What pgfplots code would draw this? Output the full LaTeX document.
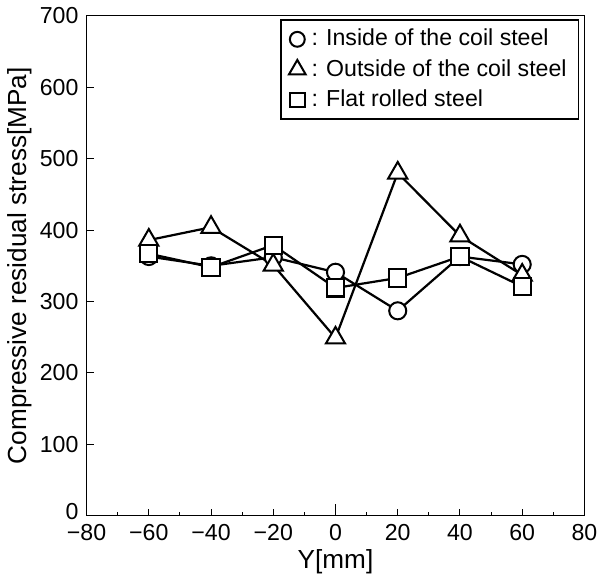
\documentclass[border=0pt]{standalone}
\usepackage{fontspec}
\setmainfont{Liberation Sans}
\usepackage{pgfplots}
\pgfplotsset{compat=1.18}
\begin{document}
\fontsize{11.5}{13}\selectfont
\begin{tikzpicture}
\begin{axis}[
 width=247.5pt, height=248.5pt, scale only axis,
 xmin=-80, xmax=80, ymin=0, ymax=700,
 xtick={-80,-60,...,80},
 xticklabels={−80,−60,−40,−20,0,20,40,60,80},
 minor x tick num=1,
 ytick={0,100,...,700},
 yticklabels={\raisebox{4pt}{0},100,200,300,400,500,600,700},
 tick pos=left, tick align=inside,
 major tick length=3.5pt, minor tick length=2pt,
 tick style={line width=0.5pt, black},
 axis line style={line width=0.6pt},
 /pgf/number format/assume math mode=true,
 extra x ticks={0}, extra x tick labels={},
 extra x tick style={major tick length=5.8pt},
 xlabel={Y[mm]},
 ylabel={Compressive residual stress[MPa]},
 label style={font=\fontsize{13}{15}\selectfont},
 xlabel style={yshift=3pt},
 ylabel style={yshift=-4pt},
 legend style={at={(0.99,0.993)}, anchor=north east, draw=black, line width=0.75pt,
   font=\fontsize{11.5}{13}\selectfont, row sep=1pt, inner xsep=4pt, inner ysep=2.5pt},
 legend cell align=left,
]
\addplot[black, line width=1.1pt, mark=*, mark size=4.25pt, mark options={fill=white, line width=1pt}, forget plot]
 coordinates {(-60,363) (-40,350) (-20,362) (0,341) (20,287) (40,363) (60,352)};
\addplot[black, line width=1.1pt, mark=triangle*, mark size=5.5pt, mark options={fill=white, line width=1pt}, forget plot]
 coordinates {(-60,386) (-40,404) (-20,351) (0,249) (20,480) (40,392) (60,337)};
\addplot[black, line width=1.1pt, mark=square*, mark size=4.25pt, mark options={fill=white, line width=1pt}, forget plot]
 coordinates {(-60,367) (-40,348) (-20,379) (0,319) (20,333) (40,363) (60,321)};
\addlegendimage{only marks, black, mark=*, mark size=3.7pt, mark options={draw=black, fill=white, line width=1pt}}
\addlegendentry{\hspace{1pt}:\hspace{4pt}Inside of the coil steel}
\addlegendimage{only marks, black, mark=triangle*, mark size=4.8pt, mark options={draw=black, fill=white, line width=1pt}}
\addlegendentry{\hspace{1pt}:\hspace{4pt}Outside of the coil steel}
\addlegendimage{only marks, black, mark=square*, mark size=3.6pt, mark options={draw=black, fill=white, line width=1pt}}
\addlegendentry{\hspace{1pt}:\hspace{4pt}Flat rolled steel}
\end{axis}
\end{tikzpicture}
\end{document}
